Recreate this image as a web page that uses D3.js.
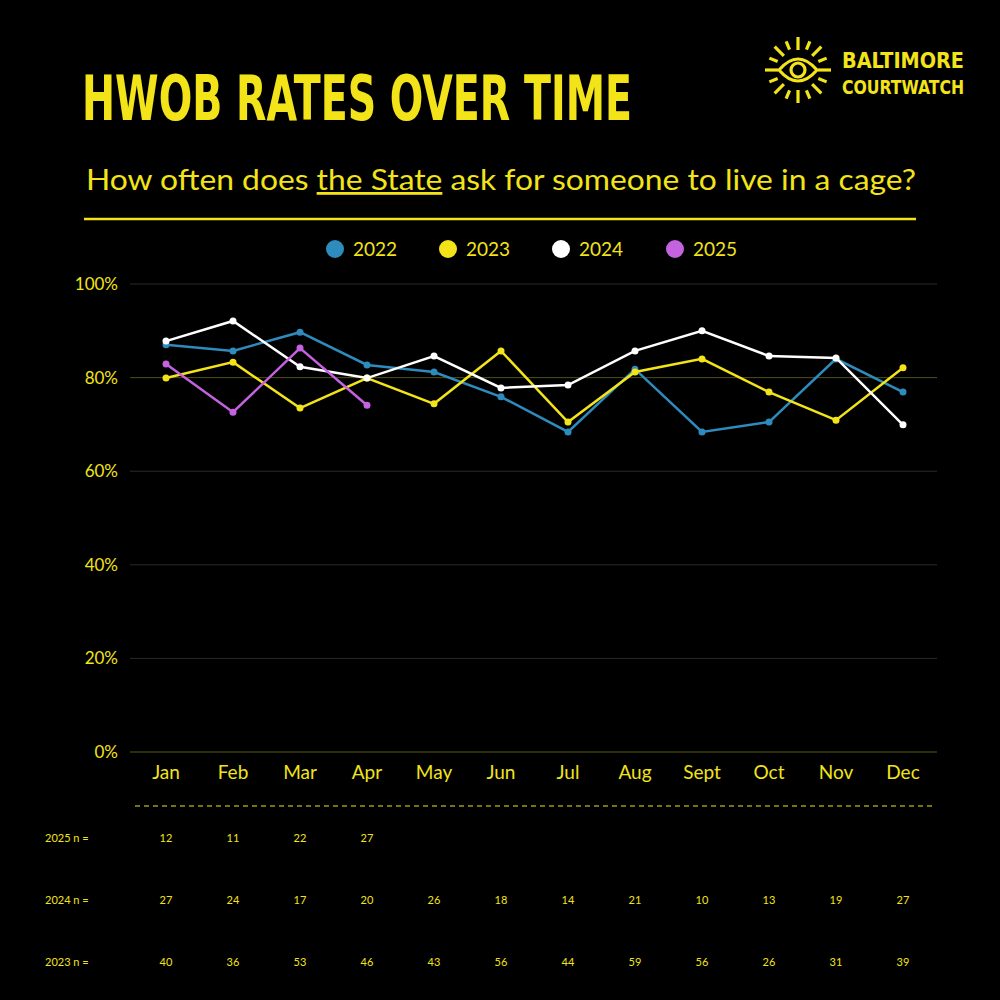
<!DOCTYPE html>
<html><head><meta charset="utf-8">
<script src="https://cdn.jsdelivr.net/npm/d3@7"></script>
<style>body{margin:0;background:#000}</style></head>
<body><svg id="c" width="1000" height="1000"></svg>
<script>
const months=["Jan","Feb","Mar","Apr","May","Jun","Jul","Aug","Sept","Oct","Nov","Dec"];
const years=["2022","2023","2024","2025"];
const colors=["#2e8bbd","#f2e418","#ffffff","#c462e0"];
const v2022=[87.0,85.7,89.7,82.7,81.2,75.9,68.4,81.8,68.4,70.5,84.0,76.9];
const v2023=[79.9,83.3,73.5,79.9,74.4,85.7,70.5,81.2,84.0,76.9,70.9,82.1];
const v2024=[87.8,92.1,82.3,79.9,84.6,77.8,78.4,85.7,90.0,84.6,84.2,69.9];
const v2025=[82.9,72.6,86.3,74.1];
const yTicks=[0,20,40,60,80,100];
const n2025=[12,11,22,27];
const n2024=[27,24,17,20,26,18,14,21,10,13,19,27];
const n2023=[40,36,53,46,43,56,44,59,56,26,31,39];
const series=[v2022,v2023,v2024,v2025];
const Y="#f2e418";
const CF="'DejaVu Sans Condensed','DejaVu Sans'";
const svg=d3.select("#c");
svg.append("rect").attr("width",1000).attr("height",1000).attr("fill","#000");
const x=d3.scalePoint().domain(months).range([166,903]);
const y=d3.scaleLinear().domain([0,100]).range([752,284]);
// title
svg.append("text").attr("x",82).attr("y",120).text("HWOB RATES OVER TIME").attr("fill",Y)
 .attr("textLength",550).attr("lengthAdjust","spacingAndGlyphs")
 .style("font-family",CF).style("font-weight","bold").style("font-size","62px");
svg.append("text").attr("x",86).attr("y",190).attr("fill",Y).attr("textLength",830).attr("lengthAdjust","spacingAndGlyphs")
 .style("font-family","Lato").style("font-size","28px")
 .html('How often does <tspan text-decoration="underline">the State</tspan> ask for someone to live in a cage?');
svg.append("line").attr("x1",84).attr("x2",916).attr("y1",219).attr("y2",219).attr("stroke",Y).attr("stroke-width",2.5);
// logo
const lg=svg.append("g").attr("transform","translate(798,70)").attr("stroke",Y).attr("fill","none").attr("stroke-width",3.2);
for(let i=0;i<16;i++){const a=i*Math.PI/8;const r1=i%2?22:20,r2=i%2?31:33;
 lg.append("line").attr("x1",r1*Math.cos(a)).attr("y1",r1*Math.sin(a)).attr("x2",r2*Math.cos(a)).attr("y2",r2*Math.sin(a));}
lg.append("path").attr("d","M-19,0 Q0,-22 19,0 Q0,22 -19,0Z");
lg.append("circle").attr("r",7);
svg.append("text").attr("x",842).attr("y",68).text("BALTIMORE").attr("fill",Y).attr("textLength",122).attr("lengthAdjust","spacingAndGlyphs").style("font-family",CF).style("font-weight","bold").style("font-size","22px");
svg.append("text").attr("x",842).attr("y",94).text("COURTWATCH").attr("fill",Y).attr("textLength",122).attr("lengthAdjust","spacingAndGlyphs").style("font-family",CF).style("font-weight","bold").style("font-size","19px");
// legend
const lx=[335,448,561,675];
years.forEach((yr,i)=>{
 svg.append("circle").attr("cx",lx[i]).attr("cy",249).attr("r",9).attr("fill",colors[i]);
 svg.append("text").attr("x",lx[i]+18).attr("y",256).text(yr).attr("fill",Y).style("font-family","Lato").style("font-size","19px");
});
// grid
yTicks.forEach(t=>{
 svg.append("line").attr("x1",130).attr("x2",937).attr("y1",y(t)).attr("y2",y(t)).attr("stroke",t===0?"#5a5a10":"#2a2a2a").attr("stroke-width",1);
 svg.append("text").attr("x",118).attr("y",y(t)+6).attr("text-anchor","end").text(t+"%").attr("fill",Y).style("font-family","Lato").style("font-size","17px");
});
svg.append("line").attr("x1",130).attr("x2",937).attr("y1",y(80)).attr("y2",y(80)).attr("stroke","#4a4a12");
months.forEach(m=>svg.append("text").attr("x",x(m)).attr("y",779).attr("text-anchor","middle").text(m).attr("fill",Y).style("font-family","Lato").style("font-size","19px"));
// lines
const line=d3.line().x((d,i)=>x(months[i])).y(d=>y(d));
series.forEach((s,k)=>{
 svg.append("path").attr("d",line(s)).attr("fill","none").attr("stroke",colors[k]).attr("stroke-width",2.5);
 s.forEach((d,i)=>svg.append("circle").attr("cx",x(months[i])).attr("cy",y(d)).attr("r",3.5).attr("fill",colors[k]));
});
// table
svg.append("line").attr("x1",135).attr("x2",935).attr("y1",806).attr("y2",806).attr("stroke",Y).attr("stroke-dasharray","5,4").attr("stroke-width",1.2);
const rows=[["2025 n =",n2025,838],["2024 n =",n2024,900],["2023 n =",n2023,962]];
rows.forEach(([lab,arr,yy])=>{
 svg.append("text").attr("x",45).attr("y",yy+4).text(lab).attr("fill",Y).style("font-family","Lato").style("font-size","11px");
 arr.forEach((v,i)=>svg.append("text").attr("x",x(months[i])).attr("y",yy+4).attr("text-anchor","middle").text(v).attr("fill",Y).style("font-family","Lato").style("font-size","11px"));
});
</script></body></html>
